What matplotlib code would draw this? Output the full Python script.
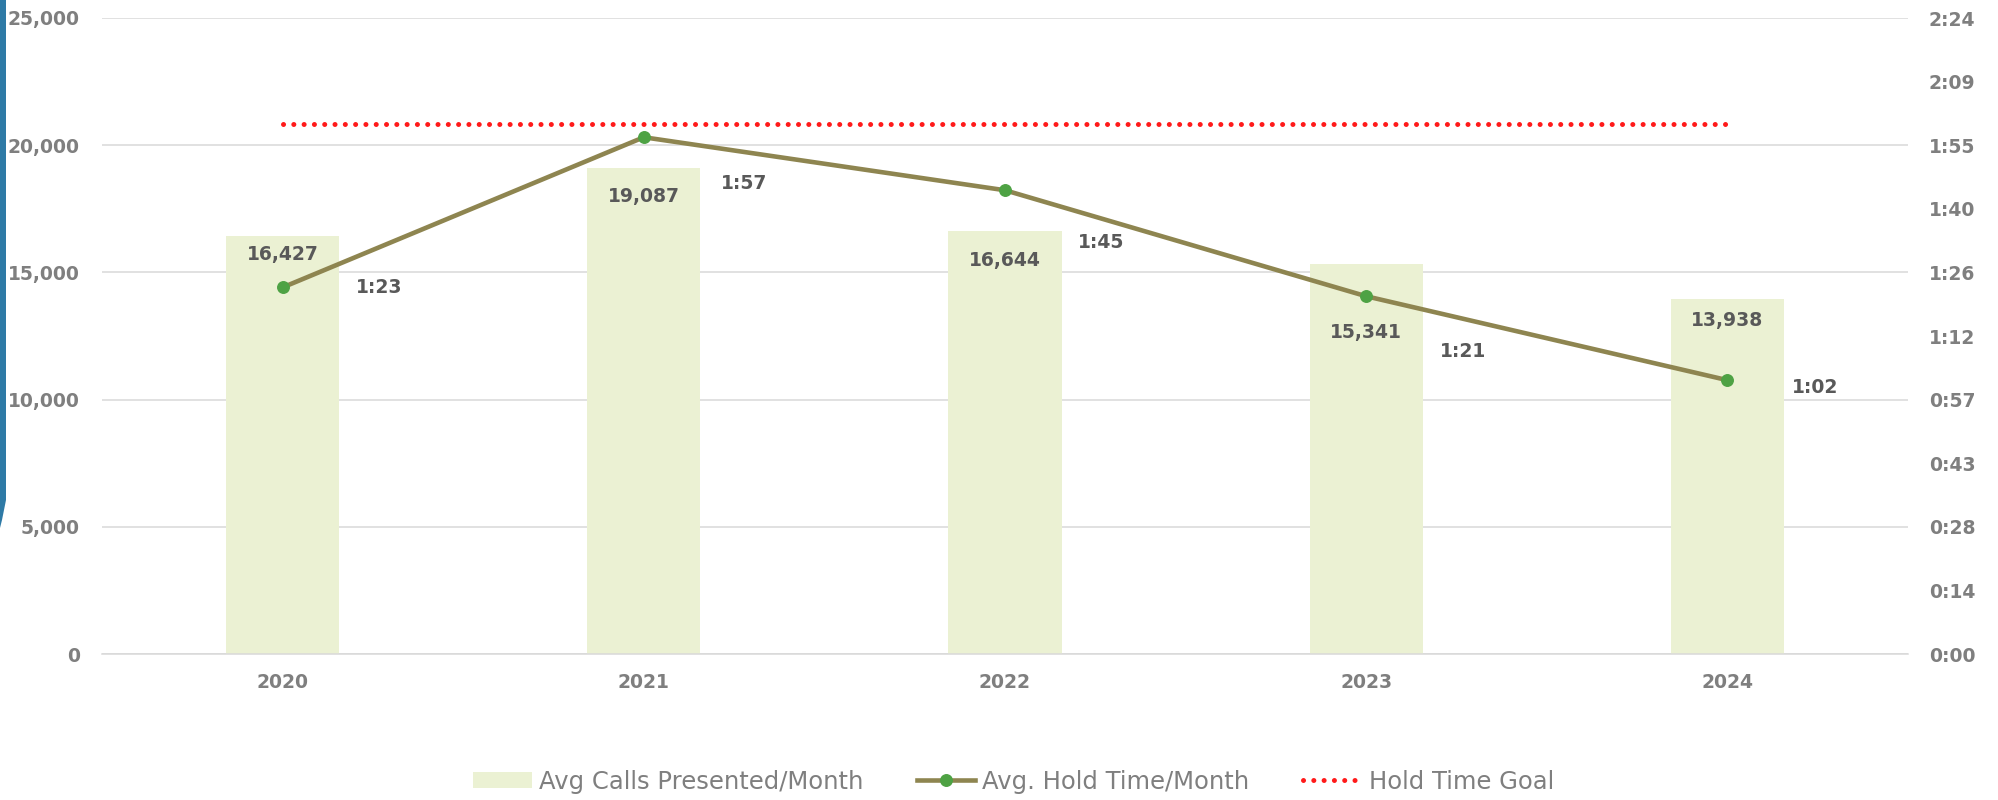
import numpy as np
import matplotlib
matplotlib.use('Agg')
import matplotlib.pyplot as plt
from matplotlib import font_manager
from matplotlib.patches import Patch, Polygon
from matplotlib.lines import Line2D
from matplotlib.ticker import FuncFormatter, FixedLocator

# data
years = ['2020', '2021', '2022', '2023', '2024']
avg_calls = [16427, 19087, 16644, 15341, 13938]
hold_secs = [83, 117, 105, 81, 62]      # avg hold time per month, seconds
goal_secs = 120                          # hold time goal 2:00

# label nudges (pixels) as placed in the original
bar_lbl_dy = [18, 28, 30, 69, 21]
line_lbl_off = [(73, 0), (77, -46), (73, -52), (74, -55), (65, -7)]

names = {f.name for f in font_manager.fontManager.ttflist}
legend_font = 'Liberation Sans Narrow' if 'Liberation Sans Narrow' in names else 'DejaVu Sans'

bar_col = '#EBF1D3'
line_col = '#8E8550'
mark_col = '#4EA244'
goal_col = '#FF1A1A'
lbl_col = '#595959'
tick_col = '#7F7F7F'
grid_col = '#D9D9D9'

fig = plt.figure(figsize=(19.99, 8), dpi=100)
ax = fig.add_axes([102/1999, 146/800, 1806/1999, 636/800])
ax2 = ax.twinx()

x = np.arange(len(years))
bars = ax.bar(x, avg_calls, width=0.313, color=bar_col, zorder=2)
ax.set_xlim(-0.5, len(years) - 0.5)
ax.set_ylim(0, 25000)
ax.set_yticks(np.arange(0, 25001, 5000))
ax.yaxis.set_major_formatter(FuncFormatter(lambda v, p: f'{int(v):,}'))
ax.grid(axis='y', color=grid_col, lw=1.1, zorder=0)
ax.set_axisbelow(True)
ax.set_xticks(x)
ax.set_xticklabels(years)

for s in ['top', 'left', 'right']:
    ax.spines[s].set_visible(False)
    ax2.spines[s].set_visible(False)
ax.spines['bottom'].set_color(grid_col)
ax.spines['bottom'].set_linewidth(1.1)
ax2.spines['bottom'].set_visible(False)

ax.tick_params(axis='y', length=0, pad=16, labelsize=13.5, labelcolor=tick_col)
ax.tick_params(axis='x', length=0, pad=14, labelsize=13.5, labelcolor=tick_col)
for t in ax.get_xticklabels() + ax.get_yticklabels():
    t.set_fontweight('bold')

# hold time axis (seconds), Excel style 0:00 .. 2:24
ax2.set_ylim(0, 144)
ax2.yaxis.set_major_locator(FixedLocator(np.linspace(0, 144, 11)))
def mmss(v, p):
    s = int(np.floor(v + 1e-6))
    return f'{s // 60}:{s % 60:02d}'
ax2.yaxis.set_major_formatter(FuncFormatter(mmss))
ax2.tick_params(axis='y', length=0, pad=15, labelsize=13.5, labelcolor=tick_col)
for t in ax2.get_yticklabels():
    t.set_fontweight('bold')

ax2.plot(x, hold_secs, color=line_col, lw=3.3, marker='o', markersize=8.3,
         markerfacecolor=mark_col, markeredgecolor=mark_col, zorder=4)
ax2.plot([x[0], x[-1]], [goal_secs, goal_secs], color=goal_col, lw=3.6,
         linestyle=(0, (0.01, 2.05)), dash_capstyle='round', zorder=3)

for i, v in enumerate(avg_calls):
    ax.annotate(f'{v:,}', (x[i], v), xytext=(0, -bar_lbl_dy[i]), textcoords='offset pixels',
                ha='center', va='center', fontsize=13.5, fontweight='bold', color=lbl_col, zorder=5)
for i, v in enumerate(hold_secs):
    dx, dy = line_lbl_off[i]
    ax2.annotate(f'{v // 60}:{v % 60:02d}', (x[i], v), xytext=(dx, dy), textcoords='offset pixels',
                 ha='left', va='center', fontsize=13.5, fontweight='bold', color=lbl_col, zorder=5)

handles = [
    Patch(facecolor=bar_col, edgecolor='none'),
    Line2D([], [], color=line_col, lw=3.3, marker='o', markersize=8.3,
           markerfacecolor=mark_col, markeredgecolor=mark_col),
    Line2D([], [], color=goal_col, lw=3.6, linestyle=(0, (0.01, 2.05)), dash_capstyle='round'),
]
labels = ['Avg Calls Presented/Month', 'Avg. Hold Time/Month', 'Hold Time Goal']
fig.legend(handles, labels, loc='center', bbox_to_anchor=(0.507, 0.023), ncol=3, frameon=False,
           prop={'family': legend_font, 'size': 17.5}, labelcolor=tick_col,
           handlelength=2.4, handletextpad=0.3, columnspacing=2.2, handleheight=0.6)

# blue slide edge on the left
fig.patches.append(Polygon([(0, 800), (6, 800), (6, 300), (2, 280), (0, 272)], closed=True,
                           transform=None, facecolor='#2E7AA6', edgecolor='none'))

plt.savefig('out.png', dpi=100)
